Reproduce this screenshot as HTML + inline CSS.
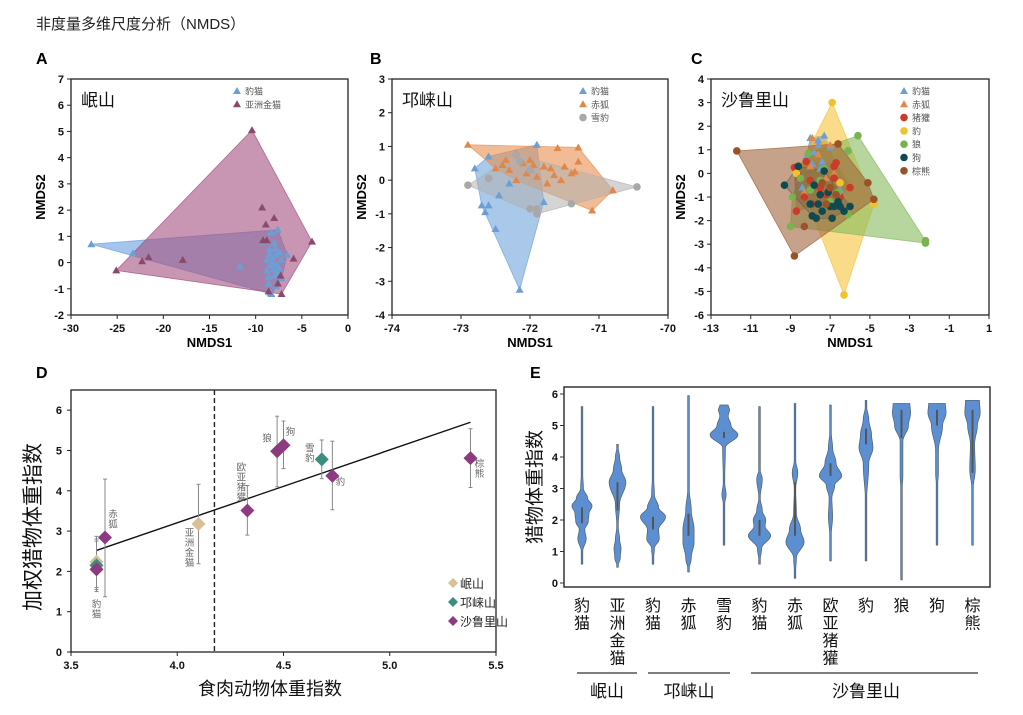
<!DOCTYPE html>
<html><head><meta charset="utf-8">
<style>
html,body{margin:0;padding:0;background:#fff;}
svg{display:block;font-family:"Liberation Sans","Noto Sans CJK SC",sans-serif;}
.tk{font-size:11px;font-weight:bold;fill:#111;}
</style></head>
<body>
<svg id="fig" width="1023" height="715" viewBox="0 0 1023 715" xmlns="http://www.w3.org/2000/svg">
<text x="36" y="29" font-size="15" fill="#222">非度量多维尺度分析（NMDS）</text>
<text x="36" y="64" font-size="16" font-weight="bold">A</text>
<text x="370" y="64" font-size="16" font-weight="bold">B</text>
<text x="691" y="64" font-size="16" font-weight="bold">C</text>
<text x="36" y="378" font-size="16" font-weight="bold">D</text>
<text x="530" y="378" font-size="16" font-weight="bold">E</text>
</svg>
<script>
// ---------- Panel A data ----------
const aBaomao=[[-27.8,0.7],[-23.3,0.35],[-11.7,-0.15],[-8.4,-1.15],[-8.3,-1.2],[-7.6,1.25],[-8.3,1.15],[-8,0.75],[-8.5,0.5],[-7.8,0.3],[-8.2,0],[-7.5,-0.2],[-8.8,-0.3],[-8,-0.5],[-7.2,-0.6],[-8.6,-0.8],[-7.8,-0.9],[-8.2,0.2],[-7.4,0.4],[-8.8,0.1],[-7.6,-0.4],[-8.4,-0.1],[-9.1,0.8],[-7.2,0.1],[-8.1,-0.25],[-7.9,0.55],[-8.6,-0.55],[-6.6,0.3],[-7.7,-0.1],[-8.5,0.3]];
const aJinmao=[[-25.1,-0.3],[-22.3,0.05],[-21.6,0.2],[-17.9,0.1],[-10.4,5.05],[-9.3,2.1],[-8,1.7],[-8.9,1.45],[-9.2,0.85],[-8.8,0.85],[-5.9,0.15],[-3.9,0.8],[-7.2,-1.2],[-7.6,-0.8],[-7.3,-0.5],[-8.6,-1.1]];
const aTicksX=[-30,-25,-20,-15,-10,-5,0], aTicksY=[-2,-1,0,1,2,3,4,5,6,7];
// ---------- Panel B data ----------
const bBaomao=[[-72.8,0.35],[-72.7,-0.75],[-72.65,-0.95],[-72.6,-0.75],[-72.5,-1.45],[-72.45,-0.45],[-72.15,-3.25],[-71.9,1.05],[-71.8,-0.65],[-72.6,0.7],[-72.3,-0.1],[-72.0,0.3]];
const bChihu=[[-72.9,1.05],[-71.3,0.97],[-70.8,-0.3],[-71.1,-0.9],[-71.3,0.55],[-71.4,0.2],[-71.35,0.25],[-71.5,0.4],[-71.55,0],[-71.6,0.95],[-72.2,0.8],[-72.1,0.5],[-72.0,0.6],[-71.8,0.4],[-71.7,0.35],[-72.3,0.3],[-72.4,0.45],[-72.5,0.35],[-71.9,0.1],[-72.2,0.0],[-71.65,0.15],[-72.05,0.2],[-71.75,-0.1],[-72.35,0.6],[-71.95,0.45]];
const bXuebao=[[-72.9,-0.15],[-70.45,-0.2],[-71.4,-0.7],[-71.9,-1.0],[-71.9,-0.85],[-72.0,-0.85],[-72.6,0.05],[-72.2,0.75],[-72.15,0.55],[-72.0,0.3]];
const bTicksX=[-74,-73,-72,-71,-70], bTicksY=[-4,-3,-2,-1,0,1,2,3];
// ---------- Panel C data ----------
const cBaomao=[[-8,1.5],[-7.3,1.6],[-7.6,1.4],[-8.2,0.7],[-7.4,0.5],[-7.8,0.9],[-7,1.1],[-7.5,0.2],[-8.4,-0.6],[-6.5,-0.7],[-7.6,1.2],[-7.9,0.4]];
const cChihu=[[-7.9,1.5],[-7.0,1.2],[-7.6,0.8],[-8,0.3],[-7.2,-0.2],[-8.3,-0.8],[-6.8,0],[-7.5,-0.5]];
const cZhuhuan=[[-8.8,0.25],[-8.6,-0.1],[-8.7,-1.6],[-8.2,0.5],[-7.5,-0.6],[-6.8,0.3],[-6.7,0.45],[-6.0,-0.6],[-8.3,-1.0],[-7.9,-1.3],[-6.8,-0.2],[-7.2,-0.9],[-8.0,-0.3],[-6.5,-1.0]];
const cBao=[[-6.9,3.0],[-6.3,-5.15],[-4.8,-1.3],[-8.7,0],[-6.5,-0.4]];
const cLang=[[-5.6,1.6],[-2.2,-2.85],[-2.2,-2.95],[-9,-2.25],[-8.9,-1.0],[-6.1,-1.75],[-6.1,0.95],[-8.1,0.85],[-7.5,-0.3],[-7.0,-1.2],[-8.0,-0.7],[-6.6,-0.8],[-7.3,0.2],[-8.5,-0.2]];
const cGou=[[-9.3,-0.5],[-8.6,0.3],[-7.8,-0.5],[-7.6,-1.3],[-7.4,-1.6],[-7.9,-1.8],[-7.0,-1.4],[-6.9,-1.9],[-6.8,-1.4],[-6.3,-1.6],[-6.0,-1.4],[-7.3,0.1],[-6.6,-1.2],[-7.7,-1.9],[-7.1,-0.8],[-8.0,-1.3],[-7.5,-0.9],[-6.5,-1.4]];
const cZongxiong=[[-11.7,0.95],[-6.6,1.25],[-5.1,-0.4],[-4.8,-1.1],[-8.8,-3.5],[-8.3,-2.25],[-7.4,-0.4],[-7.0,-0.6],[-6.7,-0.9],[-7.2,-1.3]];
const cTicksX=[-13,-11,-9,-7,-5,-3,-1,1], cTicksY=[-6,-5,-4,-3,-2,-1,0,1,2,3,4];
// ---------- Panel D data ----------
const dNames=["豹猫","豹猫","豹猫","赤狐","亚洲金猫","欧亚猪獾","狼","狗","雪豹","豹","棕熊"];
const dRegion=[0,1,2,2,0,2,2,2,1,2,2];
const dX=[3.62,3.62,3.62,3.66,4.10,4.33,4.47,4.50,4.68,4.73,5.38];
const dY=[2.24,2.15,2.05,2.84,3.18,3.51,4.98,5.13,4.78,4.37,4.81];
const dLo=[1.6,1.55,1.5,1.37,2.19,2.9,4.1,4.55,4.3,3.53,4.08];
const dHi=[2.75,2.8,2.87,4.29,4.16,4.13,5.85,5.73,5.26,5.23,5.54];
const dFit=[[3.62,2.52],[5.38,5.70]];
const dCut=4.175;
const dTicksX=[3.5,4.0,4.5,5.0,5.5], dTicksY=[0,1,2,3,4,5,6];
// ---------- Panel E data ----------
const eNames=["豹猫","亚洲金猫","豹猫","赤狐","雪豹","豹猫","赤狐","欧亚猪獾","豹","狼","狗","棕熊"];
const eDens=[
 [[0.6,0],[1.0,0.05],[1.4,0.3],[1.7,0.2],[1.95,0.45],[2.2,0.5],[2.45,0.72],[2.7,0.4],[3.0,0.1],[3.5,0.05],[4.0,0.03],[5.6,0]],
 [[0.5,0],[0.8,0.2],[1.1,0.25],[1.4,0.15],[1.8,0.05],[2.5,0.15],[3.2,0.6],[3.6,0.3],[4.0,0.15],[4.4,0]],
 [[0.6,0],[1.1,0.1],[1.4,0.45],[1.7,0.4],[2.1,0.9],[2.4,0.4],[2.8,0.1],[3.5,0.03],[5.6,0]],
 [[0.35,0],[0.8,0.2],[1.3,0.4],[1.7,0.4],[2.3,0.2],[3.0,0.05],[4.0,0.03],[5.95,0]],
 [[1.2,0],[2.5,0.05],[2.8,0.15],[3.2,0.05],[4.3,0.1],[4.7,1.0],[5.0,0.5],[5.3,0.3],[5.5,0.4],[5.65,0.3]],
 [[0.6,0],[1.1,0.15],[1.5,0.8],[1.8,0.4],[2.0,0.45],[2.3,0.2],[2.7,0.05],[3.3,0.2],[3.6,0.05],[4.0,0.02],[5.6,0]],
 [[0.15,0],[0.8,0.1],[1.3,0.65],[1.7,0.4],[2.2,0.1],[3.0,0.05],[3.5,0.2],[3.9,0.05],[5.0,0.02],[5.7,0]],
 [[0.7,0],[1.5,0.05],[2.1,0.15],[2.7,0.1],[3.1,0.3],[3.4,0.8],[3.8,0.4],[4.3,0.15],[4.8,0.05],[5.65,0]],
 [[0.7,0],[2.5,0.03],[3.8,0.2],[4.3,0.5],[4.7,0.4],[5.2,0.2],[5.6,0.05],[5.8,0]],
 [[0.1,0],[3.0,0.05],[3.4,0.1],[4.5,0.1],[5.0,0.5],[5.4,0.65],[5.7,0.6]],
 [[1.2,0],[3.0,0.03],[3.5,0.1],[4.2,0.1],[5.0,0.4],[5.4,0.65],[5.7,0.6]],
 [[1.2,0],[3.0,0.05],[3.6,0.2],[4.4,0.15],[5.0,0.35],[5.4,0.55],[5.8,0.5]]
];
const eQ1=[1.9,2.3,1.7,1.5,4.6,1.5,1.5,3.4,4.4,4.6,5.0,3.5];
const eQ3=[2.4,3.2,2.1,2.2,4.8,2.0,3.2,3.8,4.9,5.5,5.5,5.5];
const eTicksY=[0,1,2,3,4,5,6];

const NS="http://www.w3.org/2000/svg";
const svg=document.getElementById('fig');
function mk(tag,attrs,parent){const e=document.createElementNS(NS,tag);for(const k in attrs)e.setAttribute(k,attrs[k]);(parent||svg).appendChild(e);return e;}
function txt(s,attrs,parent){const e=mk('text',attrs,parent);e.textContent=s;return e;}
function hull(pts){const p=pts.slice().sort((a,b)=>a[0]-b[0]||a[1]-b[1]);const cr=(o,a,b)=>(a[0]-o[0])*(b[1]-o[1])-(a[1]-o[1])*(b[0]-o[0]);const lo=[],up=[];for(const q of p){while(lo.length>=2&&cr(lo[lo.length-2],lo[lo.length-1],q)<=0)lo.pop();lo.push(q);}for(let i=p.length-1;i>=0;i--){const q=p[i];while(up.length>=2&&cr(up[up.length-2],up[up.length-1],q)<=0)up.pop();up.push(q);}up.pop();lo.pop();return lo.concat(up);}

function scatterPanel(cfg){
 const g=mk('g',{});
 
 
 const sx=v=>cfg.x0+(v-cfg.xmin)/(cfg.xmax-cfg.xmin)*(cfg.x1-cfg.x0);
 const sy=v=>cfg.y1-(v-cfg.ymin)/(cfg.ymax-cfg.ymin)*(cfg.y1-cfg.y0);
 for(const s of cfg.series){
  const h=hull(s.pts.map(p=>[sx(p[0]),sy(p[1])]));
  const pg=mk('polygon',{points:h.map(p=>p.join(',')).join(' '),fill:s.hull,'fill-opacity':s.op,stroke:s.hull,'stroke-opacity':0.8,'stroke-width':0.8},g);
  
  
 }
 for(const s of cfg.series){
  for(const p of s.pts){
   const X=sx(p[0]),Y=sy(p[1]);let m;
   if(s.shape==='tri'){m=mk('polygon',{points:`${X},${Y-4} ${X-4},${Y+3} ${X+4},${Y+3}`,fill:s.col},g);}
   else{m=mk('circle',{cx:X,cy:Y,r:3.8,fill:s.col},g);}
   
   
  }
 }
 const fr=mk('rect',{x:cfg.x0,y:cfg.y0,width:cfg.x1-cfg.x0,height:cfg.y1-cfg.y0,fill:'none',stroke:'#222','stroke-width':1.3},g);
 
 
 for(const t of cfg.tx){const X=sx(t);mk('line',{x1:X,x2:X,y1:cfg.y1,y2:cfg.y1+4,stroke:'#222'},g);
  const l=txt(String(t),{x:X,y:cfg.y1+17,'text-anchor':'middle',class:'tk'},g);}
 for(const t of cfg.ty){const Y=sy(t);mk('line',{x1:cfg.x0-4,x2:cfg.x0,y1:Y,y2:Y,stroke:'#222'},g);
  const l=txt(String(t),{x:cfg.x0-7,y:Y+4,'text-anchor':'end',class:'tk'},g);}
 const xt=txt('NMDS1',{x:(cfg.x0+cfg.x1)/2,y:347,'text-anchor':'middle','font-size':13,'font-weight':'bold'},g);
 
 const yx=cfg.x0-26,yc=(cfg.y0+cfg.y1)/2;
 const yt=txt('NMDS2',{x:yx,y:yc,'text-anchor':'middle','font-size':13,'font-weight':'bold',transform:`rotate(-90 ${yx} ${yc})`},g);
 
 const rt=txt(cfg.region,{x:cfg.x0+10,y:cfg.y0+27,'font-size':17,fill:'#111'},g);
 
 cfg.series.forEach((s,i)=>{
  const lx=cfg.lx,ly=cfg.ly+i*13.3;
  const lg=mk('g',{},g);
  
  
  if(s.shape==='tri')mk('polygon',{points:`${lx},${ly-4} ${lx-4},${ly+3} ${lx+4},${ly+3}`,fill:s.col},lg);
  else mk('circle',{cx:lx,cy:ly,r:3.8,fill:s.col},lg);
  txt(s.label,{x:lx+8,y:ly+3.5,'font-size':9,fill:'#555'},lg);
 });
}

scatterPanel({name:'panel-a-nmds',region:'岷山',x0:71,x1:348,y0:79,y1:315,xmin:-30,xmax:0,ymin:-2,ymax:7,tx:aTicksX,ty:aTicksY,lx:237,ly:91,
 series:[{key:'baomao',label:'豹猫',pts:aBaomao,col:'#6b9fd6',hull:'#6a9ee0',op:0.6,shape:'tri'},
         {key:'jinmao',label:'亚洲金猫',pts:aJinmao,col:'#8a4a6c',hull:'#a4507f',op:0.6,shape:'tri'}]});
scatterPanel({name:'panel-b-nmds',region:'邛崃山',x0:392,x1:668,y0:79,y1:315,xmin:-74,xmax:-70,ymin:-4,ymax:3,tx:bTicksX,ty:bTicksY,lx:583,ly:91,
 series:[{key:'baomao',label:'豹猫',pts:bBaomao,col:'#6b9fd6',hull:'#6fa3dc',op:0.6,shape:'tri'},
         {key:'chihu',label:'赤狐',pts:bChihu,col:'#e0884a',hull:'#e8904e',op:0.6,shape:'tri'},
         {key:'xuebao',label:'雪豹',pts:bXuebao,col:'#a8a8a8',hull:'#b0b0b0',op:0.55,shape:'circle'}]});
scatterPanel({name:'panel-c-nmds',region:'沙鲁里山',x0:711,x1:989,y0:79,y1:315,xmin:-13,xmax:1,ymin:-6,ymax:4,tx:cTicksX,ty:cTicksY,lx:904,ly:91,
 series:[{key:'baomao',label:'豹猫',pts:cBaomao,col:'#6b9fd6',hull:'#6fa3dc',op:0.8,shape:'tri'},
         {key:'chihu',label:'赤狐',pts:cChihu,col:'#e0884a',hull:'#e8904e',op:0.7,shape:'tri'},
         {key:'zhuhuan',label:'猪獾',pts:cZhuhuan,col:'#cc3a2a',hull:'#d04030',op:0.6,shape:'circle'},
         {key:'bao',label:'豹',pts:cBao,col:'#f2c12e',hull:'#f5c33a',op:0.6,shape:'circle'},
         {key:'lang',label:'狼',pts:cLang,col:'#77b350',hull:'#86bb5c',op:0.6,shape:'circle'},
         {key:'gou',label:'狗',pts:cGou,col:'#0f4a50',hull:'#1f5a60',op:0.35,shape:'circle'},
         {key:'zongxiong',label:'棕熊',pts:cZongxiong,col:'#9a5226',hull:'#a0643c',op:0.6,shape:'circle'}]});

// ---------- Panel D ----------
(function(){
 const g=mk('g',{});
 
 
 const X0=71,X1=496,Y0=390,Y1=652;
 const sx=v=>X0+(v-3.5)/2*(X1-X0), sy=v=>Y1-v/6.5*(Y1-Y0);
 const cols=['#d9bf95','#3a8e80','#8e3a80'];
 mk('rect',{x:X0,y:Y0,width:X1-X0,height:Y1-Y0,fill:'none',stroke:'#222','stroke-width':1.3},g);
 for(const t of dTicksX){const X=sx(t);mk('line',{x1:X,x2:X,y1:Y1,y2:Y1+4,stroke:'#222'},g);
  const l=txt(t.toFixed(1),{x:X,y:Y1+17,'text-anchor':'middle',class:'tk'},g);}
 for(const t of dTicksY){const Y=sy(t);mk('line',{x1:X0-4,x2:X0,y1:Y,y2:Y,stroke:'#222'},g);
  const l=txt(String(t),{x:X0-9,y:Y+4,'text-anchor':'end',class:'tk'},g);}
 const cut=mk('line',{x1:sx(dCut),x2:sx(dCut),y1:Y0,y2:Y1,stroke:'#222','stroke-width':1.4,'stroke-dasharray':'5,3'},g);
 
 const fit=mk('line',{x1:sx(dFit[0][0]),y1:sy(dFit[0][1]),x2:sx(dFit[1][0]),y2:sy(dFit[1][1]),stroke:'#111','stroke-width':1.4},g);
 
 const lab={3:[8,-20,'v'],4:[-9,12,'v'],5:[-6,-40,'v'],6:[-10,-10,'h'],7:[7,-10,'h'],8:[-12,-8,'v'],9:[8,9,'v'],10:[9,9,'v'],2:[0,38,'v']};
 for(let i=0;i<dX.length;i++){
  const X=sx(dX[i]);
  const eb=mk('line',{x1:X,x2:X,y1:sy(dLo[i]),y2:sy(dHi[i]),stroke:'#888','stroke-width':1},g);
  
  mk('line',{x1:X-2,x2:X+2,y1:sy(dLo[i]),y2:sy(dLo[i]),stroke:'#888'},g);
  mk('line',{x1:X-2,x2:X+2,y1:sy(dHi[i]),y2:sy(dHi[i]),stroke:'#888'},g);
 }
 for(let i=0;i<dX.length;i++){
  const X=sx(dX[i]),Y=sy(dY[i]);
  const d=mk('polygon',{points:`${X},${Y-7} ${X+7},${Y} ${X},${Y+7} ${X-7},${Y}`,fill:cols[dRegion[i]]},g);
  
  if(lab[i]){const [ox,oy,m]=lab[i];
   if(m==='h'){txt(dNames[i],{x:X+ox,y:Y+oy,'text-anchor':'middle','font-size':9.5,fill:'#666'},g);}
   else{[...dNames[i]].forEach((c,k)=>txt(c,{x:X+ox,y:Y+oy+k*10,'text-anchor':'middle','font-size':9.5,fill:'#666'},g));}
  }
 }
 const legN=['岷山','邛崃山','沙鲁里山'];
 legN.forEach((n,i)=>{const lg=mk('g',{},g);
  
  
  const lx=453,ly=583+i*19;
  mk('polygon',{points:`${lx},${ly-5} ${lx+5},${ly} ${lx},${ly+5} ${lx-5},${ly}`,fill:cols[i]},lg);
  txt(n,{x:lx+7,y:ly+5,'font-size':12,fill:'#222'},lg);});
 const xt=txt('食肉动物体重指数',{x:270,y:695,'text-anchor':'middle','font-size':18,fill:'#111'},g);
 
 const yt=txt('加权猎物体重指数',{x:40,y:527,'text-anchor':'middle','font-size':21,fill:'#111',transform:'rotate(-90 40 527)'},g);
 
})();

// ---------- Panel E ----------
(function(){
 const g=mk('g',{});
 
 
 const X0=564,X1=990,Y0=387,Y1=587;
 const sy=v=>583-v*31.5;
 const cx=i=>582+i*35.5;
 const W=14;
 mk('rect',{x:X0,y:Y0,width:X1-X0,height:Y1-Y0,fill:'none',stroke:'#333','stroke-width':1.5},g);
 for(const t of eTicksY){const Y=sy(t);mk('line',{x1:X0-4,x2:X0,y1:Y,y2:Y,stroke:'#333'},g);
  const l=txt(String(t),{x:X0-6,y:Y+4,'text-anchor':'end',class:'tk'},g);}
 function smooth(d){const out=[];for(let k=0;k<d.length-1;k++){const a=d[k],b=d[k+1];for(let s=0;s<8;s++){const t=s/8,u=(1-Math.cos(Math.PI*t))/2;out.push([a[0]+(b[0]-a[0])*t,a[1]+(b[1]-a[1])*u]);}}out.push(d[d.length-1]);return out;}
 eDens.forEach((d,i)=>{
  const c=cx(i);
  const sd=smooth(d);
  const right=sd.map(p=>[c+Math.max(p[1]*W,0.8),sy(p[0])]);
  const left=sd.slice().reverse().map(p=>[c-Math.max(p[1]*W,0.8),sy(p[0])]);
  const v=mk('polygon',{points:right.concat(left).map(p=>p[0].toFixed(2)+','+p[1].toFixed(2)).join(' '),fill:'#5b8fd2',stroke:'#4f5f70','stroke-width':0.7,'stroke-linejoin':'round'},g);
  
  mk('line',{x1:c,x2:c,y1:sy(eQ1[i]),y2:sy(eQ3[i]),stroke:'#555','stroke-width':2},g);
  [...eNames[i]].forEach((ch,k)=>{const t=txt(ch,{x:c,y:611+k*17.5,'text-anchor':'middle','font-size':16,fill:'#111'},g);
   if(k===0){}});
 });
 [[577,637,'岷山',607],[648,730,'邛崃山',689],[751,978,'沙鲁里山',866]].forEach(gp=>{
  mk('line',{x1:gp[0],x2:gp[1],y1:673,y2:673,stroke:'#333','stroke-width':1.2},g);
  const t=txt(gp[2],{x:gp[3],y:697,'text-anchor':'middle','font-size':17,fill:'#111'},g);
  
 });
 const yt=txt('猎物体重指数',{x:541,y:487,'text-anchor':'middle','font-size':19,fill:'#111',transform:'rotate(-90 541 487)'},g);
 
})();
</script>
</body></html>
